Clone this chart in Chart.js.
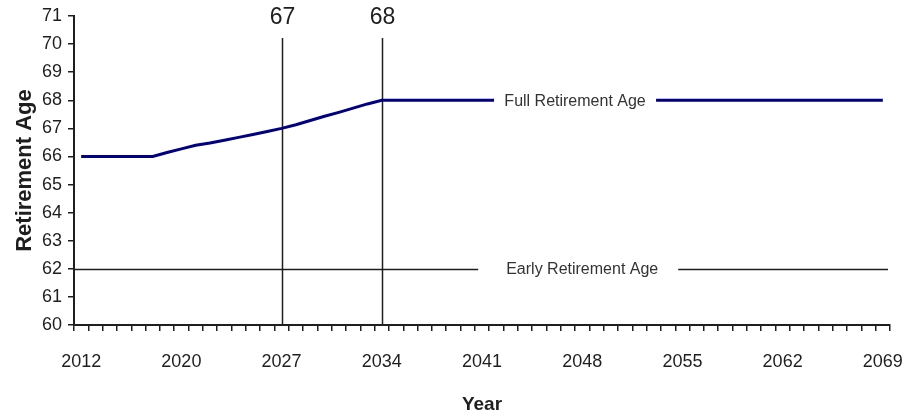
<!DOCTYPE html>
<html>
<head>
<meta charset="utf-8">
<script src="https://cdn.jsdelivr.net/npm/chart.js@4.4.0/dist/chart.umd.min.js"></script>
<style>
  html, body { margin: 0; padding: 0; background: #fff; }
  #wrap { width: 904px; height: 420px; }
</style>
</head>
<body>
<div id="wrap"><canvas id="myChart" width="904" height="420"></canvas></div>
<script>
// categories as shown on the axis (label every 7th year)
const years = [2012, 2014, 2015, 2016, 2017, 2018, 2019, 2020, 2021, 2022,
  2023, 2024, 2025, 2026, 2027, 2028, 2029, 2030, 2031, 2032,
  2033, 2034, 2035, 2036, 2037, 2038, 2039, 2040, 2041, 2042,
  2043, 2044, 2045, 2046, 2047, 2048, 2049, 2050, 2051, 2052,
  2053, 2054, 2055, 2056, 2057, 2058, 2059, 2060, 2061, 2062,
  2063, 2064, 2065, 2066, 2067, 2068, 2069];

// full retirement age
const fullAge = [66, 66, 66, 66, 66, 66, 66.14, 66.27, 66.4, 66.48,
  66.58, 66.68, 66.78, 66.89, 67, 67.13, 67.28, 67.43, 67.57, 67.72,
  67.87, 68, 68, 68, 68, 68, 68, 68, 68, 68,
  68, 68, 68, 68, 68, 68, 68, 68, 68, 68,
  68, 68, 68, 68, 68, 68, 68, 68, 68, 68,
  68, 68, 68, 68, 68, 68, 68];

const earlyAge = 62;
const yTicks = [60, 61, 62, 63, 64, 65, 66, 67, 68, 69, 70, 71];

// vertical markers: year and the age reached
const markerYears = [2027, 2034];
const markerAges = ['67', '68'];

// text labels on the lines (white box behind the text breaks the line)
const lineLabels = [
  { text: 'Full Retirement Age', year: 2047.5, age: 68, boxW: 162, boxShift: 0 },
  { text: 'Early Retirement Age', year: 2048, age: 62, boxW: 200, boxShift: -4 }
];

const lineColor = '#000080';
const inkColor = '#1e1e1e';

const refLines = {
  id: 'refLines',
  beforeDatasetsDraw(chart) {
    const { ctx, chartArea, scales: { x, y } } = chart;
    ctx.save();
    ctx.strokeStyle = inkColor;
    ctx.lineWidth = 1.5;
    // early retirement line across the whole plot
    const ey = Math.round(y.getPixelForValue(earlyAge)) + 0.5;
    ctx.beginPath();
    ctx.moveTo(chartArea.left, ey);
    ctx.lineTo(chartArea.right - 2, ey);
    ctx.stroke();
    // vertical lines
    markerYears.forEach((yr, i) => {
      const px = Math.round(x.getPixelForValue(years.indexOf(yr))) + 0.5;
      ctx.beginPath();
      ctx.moveTo(px, chartArea.top + 22);
      ctx.lineTo(px, chartArea.bottom);
      ctx.stroke();
      ctx.fillStyle = inkColor;
      ctx.font = '23px "Liberation Sans", Arial, sans-serif';
      ctx.textAlign = 'center';
      ctx.textBaseline = 'middle';
      ctx.fillText(markerAges[i], px, chartArea.top + 2);
    });
    ctx.restore();
  },
  afterDatasetsDraw(chart) {
    const { ctx, scales: { x, y } } = chart;
    ctx.save();
    ctx.font = '16px "Liberation Sans", Arial, sans-serif';
    ctx.textAlign = 'center';
    ctx.textBaseline = 'middle';
    lineLabels.forEach(l => {
      // fractional year -> fractional category index
      const i0 = years.indexOf(Math.floor(l.year));
      const idx = i0 + (l.year - Math.floor(l.year));
      const cx = x.getPixelForDecimal((idx + 0.5) / years.length);
      const cy = y.getPixelForValue(l.age);
      ctx.fillStyle = '#fff';
      ctx.fillRect(cx + l.boxShift - l.boxW / 2, cy - 8, l.boxW, 16);
      ctx.fillStyle = '#333';
      ctx.fillText(l.text, cx, cy + 1);
    });
    ctx.restore();
  }
};

const ctx = document.getElementById('myChart');
const chart = new Chart(ctx, {
  type: 'line',
  data: {
    labels: years.map(String),
    datasets: [{
      label: 'Full Retirement Age',
      data: fullAge,
      borderColor: lineColor,
      borderWidth: 3,
      pointRadius: 0,
      tension: 0,
      fill: false
    }]
  },
  options: {
    responsive: false,
    animation: false,
    layout: { padding: { top: 16, right: 14, left: 0, bottom: 0 } },
    plugins: { legend: { display: false }, tooltip: { enabled: false } },
    scales: {
      x: {
        offset: true,
        grid: { offset: true, drawOnChartArea: false, tickLength: 6, color: inkColor, lineWidth: 1.5 },
        border: { color: inkColor, width: 2 },
        ticks: {
          autoSkip: false, maxRotation: 0, padding: 20, color: inkColor,
          font: { size: 18, family: '"Liberation Sans", Arial, sans-serif' },
          callback: (v, i) => (i % 7 === 0 ? years[i] : '')
        },
        title: {
          display: true, text: 'Year', color: inkColor,
          font: { size: 19, weight: 'bold', family: '"Liberation Sans", Arial, sans-serif' },
          padding: { top: 4, bottom: 4 }
        },
        afterFit: s => { s.height = 95; s.paddingLeft = 0; s.paddingRight = 0; }
      },
      y: {
        min: 60, max: 71,
        afterBuildTicks: s => { s.ticks = yTicks.map(v => ({ value: v })); },
        grid: { drawOnChartArea: false, tickLength: 6, color: inkColor, lineWidth: 1.5 },
        border: { color: inkColor, width: 2 },
        ticks: {
          padding: 6, color: inkColor,
          font: { size: 18, family: '"Liberation Sans", Arial, sans-serif' }
        },
        title: {
          display: true, text: 'Retirement Age', color: inkColor,
          font: { size: 22, weight: 'bold', family: '"Liberation Sans", Arial, sans-serif' },
          padding: { top: 12, bottom: 4 }
        },
        afterFit: s => { s.width = 74; s.paddingTop = 0; s.paddingBottom = 0; }
      }
    }
  },
  plugins: [refLines]
});
</script>
</body>
</html>
